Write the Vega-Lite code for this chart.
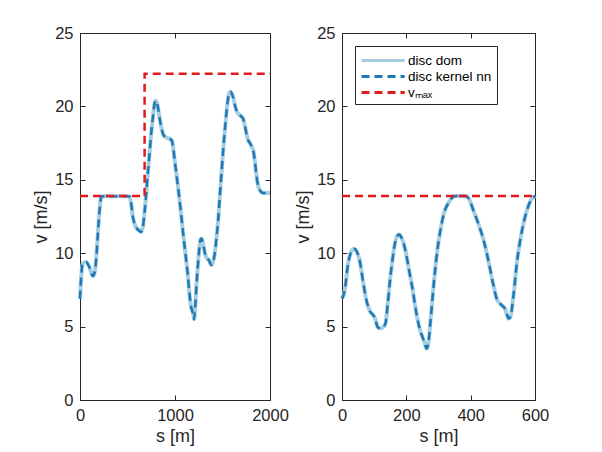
{
  "$schema": "https://vega.github.io/schema/vega-lite/v6.json",
  "padding": {"left": 32, "top": 24, "right": 5, "bottom": 5},
  "background": "white",
  "bounds": "flush",
  "spacing": 72,
  "config": {
    "font": "Liberation Sans",
    "view": {"stroke": "#262626", "strokeWidth": 1},
    "axis": {
      "grid": false,
      "domain": false,
      "format": "d",
      "labelFlush": false,
      "labelFont": "Liberation Sans",
      "labelFontSize": 16.5,
      "labelColor": "#262626",
      "titleFont": "Liberation Sans",
      "titleFontSize": 18,
      "titleFontWeight": "normal",
      "titleColor": "#262626",
      "tickColor": "#262626",
      "tickSize": -5,
      "labelPadding": 12
    },
    "legend": {
      "labelFont": "Liberation Sans",
      "labelFontSize": 13.5,
      "labelColor": "#000000"
    }
  },
  "datasets": {
    "left": [
      {"s": 0, "v": 6.9}, {"s": 15, "v": 8.6}, {"s": 28, "v": 9.3}, {"s": 63, "v": 9.4},
      {"s": 99, "v": 9.05}, {"s": 134, "v": 8.45}, {"s": 150, "v": 8.6}, {"s": 169, "v": 9.5},
      {"s": 185, "v": 11.0}, {"s": 197, "v": 12.2}, {"s": 210, "v": 13.2}, {"s": 222, "v": 13.8},
      {"s": 240, "v": 13.88}, {"s": 300, "v": 13.88}, {"s": 400, "v": 13.88}, {"s": 500, "v": 13.88},
      {"s": 521, "v": 13.85}, {"s": 540, "v": 13.3}, {"s": 556, "v": 12.5}, {"s": 575, "v": 12.0},
      {"s": 592, "v": 11.75}, {"s": 620, "v": 11.55}, {"s": 644, "v": 11.45}, {"s": 662, "v": 11.8},
      {"s": 680, "v": 12.8}, {"s": 697, "v": 14.06}, {"s": 715, "v": 15.5}, {"s": 732, "v": 16.8},
      {"s": 750, "v": 18.2}, {"s": 768, "v": 19.3}, {"s": 785, "v": 20.2}, {"s": 796, "v": 20.4},
      {"s": 808, "v": 20.3}, {"s": 820, "v": 19.95}, {"s": 838, "v": 19.2}, {"s": 856, "v": 18.6},
      {"s": 875, "v": 18.1}, {"s": 891, "v": 17.96}, {"s": 920, "v": 17.85}, {"s": 944, "v": 17.8},
      {"s": 968, "v": 17.65}, {"s": 983, "v": 17.1}, {"s": 997, "v": 16.3}, {"s": 1015, "v": 15.4},
      {"s": 1032, "v": 14.5}, {"s": 1050, "v": 13.5}, {"s": 1067, "v": 12.5}, {"s": 1085, "v": 11.4},
      {"s": 1102, "v": 10.4}, {"s": 1120, "v": 9.4}, {"s": 1137, "v": 8.4}, {"s": 1150, "v": 7.4},
      {"s": 1165, "v": 6.5}, {"s": 1180, "v": 6.1}, {"s": 1190, "v": 5.9}, {"s": 1201, "v": 5.5},
      {"s": 1212, "v": 6.3}, {"s": 1225, "v": 7.7}, {"s": 1240, "v": 9.1}, {"s": 1254, "v": 10.2},
      {"s": 1268, "v": 10.9}, {"s": 1278, "v": 11.0}, {"s": 1290, "v": 10.8}, {"s": 1303, "v": 10.4},
      {"s": 1317, "v": 9.95}, {"s": 1331, "v": 9.7}, {"s": 1345, "v": 9.6}, {"s": 1359, "v": 9.5},
      {"s": 1372, "v": 9.3}, {"s": 1384, "v": 9.2}, {"s": 1400, "v": 9.4}, {"s": 1419, "v": 10.0},
      {"s": 1436, "v": 11.0}, {"s": 1454, "v": 12.2}, {"s": 1470, "v": 13.7}, {"s": 1489, "v": 15.4},
      {"s": 1507, "v": 17.0}, {"s": 1525, "v": 18.4}, {"s": 1542, "v": 19.6}, {"s": 1560, "v": 20.6},
      {"s": 1575, "v": 20.95}, {"s": 1585, "v": 21.0}, {"s": 1600, "v": 20.85}, {"s": 1613, "v": 20.6},
      {"s": 1630, "v": 20.1}, {"s": 1648, "v": 19.7}, {"s": 1665, "v": 19.5}, {"s": 1683, "v": 19.4},
      {"s": 1700, "v": 19.3}, {"s": 1718, "v": 19.15}, {"s": 1735, "v": 18.7}, {"s": 1754, "v": 18.1},
      {"s": 1770, "v": 17.7}, {"s": 1789, "v": 17.5}, {"s": 1805, "v": 17.3}, {"s": 1824, "v": 17.0},
      {"s": 1840, "v": 16.3}, {"s": 1859, "v": 15.2}, {"s": 1875, "v": 14.6}, {"s": 1894, "v": 14.3},
      {"s": 1910, "v": 14.15}, {"s": 1930, "v": 14.1}, {"s": 1960, "v": 14.1}, {"s": 2000, "v": 14.1}
    ],
    "leftmax": [
      {"s": 0, "v": 13.89}, {"s": 680, "v": 13.89}, {"s": 680, "v": 22.22}, {"s": 2000, "v": 22.22}
    ],
    "right": [
      {"s": 0, "v": 6.9}, {"s": 8, "v": 7.4}, {"s": 19, "v": 9.3}, {"s": 29, "v": 10.1},
      {"s": 38, "v": 10.3}, {"s": 45, "v": 10.15}, {"s": 56, "v": 9.4}, {"s": 66, "v": 8.0},
      {"s": 77, "v": 6.7}, {"s": 87, "v": 6.05}, {"s": 98, "v": 5.75}, {"s": 104, "v": 5.5},
      {"s": 110, "v": 5.0}, {"s": 119, "v": 4.88}, {"s": 129, "v": 5.0}, {"s": 135, "v": 5.2},
      {"s": 142, "v": 6.5}, {"s": 150, "v": 8.3}, {"s": 156, "v": 9.4}, {"s": 166, "v": 10.8},
      {"s": 177, "v": 11.27}, {"s": 187, "v": 10.95}, {"s": 198, "v": 10.1}, {"s": 208, "v": 8.9},
      {"s": 219, "v": 7.6}, {"s": 229, "v": 6.2}, {"s": 240, "v": 5.0}, {"s": 250, "v": 4.3},
      {"s": 257, "v": 3.9}, {"s": 263, "v": 3.5}, {"s": 268, "v": 3.8}, {"s": 276, "v": 5.6},
      {"s": 287, "v": 8.3}, {"s": 297, "v": 10.3}, {"s": 308, "v": 11.8}, {"s": 318, "v": 12.8},
      {"s": 329, "v": 13.35}, {"s": 339, "v": 13.7}, {"s": 350, "v": 13.88}, {"s": 370, "v": 13.9},
      {"s": 387, "v": 13.88}, {"s": 397, "v": 13.6}, {"s": 408, "v": 12.95}, {"s": 424, "v": 12.0},
      {"s": 440, "v": 10.9}, {"s": 455, "v": 9.5}, {"s": 471, "v": 7.8}, {"s": 481, "v": 6.9},
      {"s": 490, "v": 6.6}, {"s": 497, "v": 6.45}, {"s": 507, "v": 6.2}, {"s": 513, "v": 5.8},
      {"s": 518, "v": 5.55}, {"s": 523, "v": 5.65}, {"s": 534, "v": 7.3}, {"s": 544, "v": 9.4},
      {"s": 555, "v": 11.0}, {"s": 565, "v": 12.1}, {"s": 576, "v": 13.0}, {"s": 586, "v": 13.55},
      {"s": 600, "v": 13.9}
    ],
    "rightmax": [
      {"s": 0, "v": 13.89}, {"s": 600, "v": 13.89}
    ]
  },
  "resolve": {
    "scale": {"color": "independent", "strokeDash": "independent"},
    "legend": {"color": "independent", "strokeDash": "independent"}
  },
  "hconcat": [
    {
      "width": 190,
      "height": 367,
      "resolve": {"axis": {"x": "independent", "y": "independent"}},
      "encoding": {
        "x": {"field": "s", "type": "quantitative", "scale": {"domain": [0, 2000], "nice": false}},
        "y": {"field": "v", "type": "quantitative", "scale": {"domain": [0, 25], "nice": false}}
      },
      "layer": [
        {
          "data": {"name": "left"},
          "mark": {"type": "line", "interpolate": "monotone", "strokeWidth": 4, "color": "#a6cee3"},
          "encoding": {
            "x": {"field": "s", "type": "quantitative", "title": "s [m]", "axis": {"values": [0, 1000, 2000]}},
            "y": {"field": "v", "type": "quantitative", "title": "v [m/s]", "axis": {"values": [0, 5, 10, 15, 20, 25]}}
          }
        },
        {
          "data": {"name": "left"},
          "mark": {"type": "line", "interpolate": "monotone", "strokeWidth": 2.5, "color": "#1f78b4", "strokeDash": [8, 5]},
          "encoding": {
            "x": {"field": "s", "type": "quantitative", "axis": null},
            "y": {"field": "v", "type": "quantitative", "axis": null}
          }
        },
        {
          "data": {"name": "leftmax"},
          "mark": {"type": "line", "strokeWidth": 2.5, "color": "#e31a1c", "strokeDash": [8, 5]},
          "encoding": {
            "x": {"field": "s", "type": "quantitative", "axis": {"orient": "top", "labels": false, "title": null, "values": [0, 1000, 2000]}},
            "y": {"field": "v", "type": "quantitative", "axis": {"orient": "right", "labels": false, "title": null, "values": [0, 5, 10, 15, 20, 25]}}
          }
        }
      ]
    },
    {
      "width": 193,
      "height": 367,
      "resolve": {"axis": {"x": "independent", "y": "independent"}},
      "encoding": {
        "x": {"field": "s", "type": "quantitative", "scale": {"domain": [0, 600], "nice": false}},
        "y": {"field": "v", "type": "quantitative", "scale": {"domain": [0, 25], "nice": false}}
      },
      "layer": [
        {
          "data": {"name": "right"},
          "mark": {"type": "line", "interpolate": "monotone", "strokeWidth": 4},
          "encoding": {
            "x": {"field": "s", "type": "quantitative", "title": "s [m]", "axis": {"values": [0, 200, 400, 600]}},
            "y": {"field": "v", "type": "quantitative", "title": "v [m/s]", "axis": {"values": [0, 5, 10, 15, 20, 25]}},
            "color": {
              "datum": "dom",
              "type": "nominal",
              "scale": {"domain": ["dom", "nn", "vmax"], "range": ["#a6cee3", "#1f78b4", "#e31a1c"]},
              "legend": {
                "title": null,
                "orient": "top-left",
                "offset": 13,
                "padding": 5,
                "strokeColor": "#262626",
                "fillColor": "white",
                "symbolType": "M-1,0H4.4",
                "symbolSize": 256,
                "symbolStrokeWidth": 3,
                "rowPadding": 0,
                "labelOffset": 29,
                "labelExpr": "datum.label == 'dom' ? 'disc dom' : datum.label == 'nn' ? 'disc kernel nn' : 'vₘₐₓ'"
              }
            },
            "strokeDash": {
              "datum": "dom",
              "type": "nominal",
              "scale": {"domain": ["dom", "nn", "vmax"], "range": [[1, 0], [8, 5], [8, 5]]}
            }
          }
        },
        {
          "data": {"name": "right"},
          "mark": {"type": "line", "interpolate": "monotone", "strokeWidth": 2.5},
          "encoding": {
            "x": {"field": "s", "type": "quantitative", "axis": null},
            "y": {"field": "v", "type": "quantitative", "axis": null},
            "color": {"datum": "nn", "type": "nominal"},
            "strokeDash": {"datum": "nn", "type": "nominal"}
          }
        },
        {
          "data": {"name": "rightmax"},
          "mark": {"type": "line", "strokeWidth": 2.5},
          "encoding": {
            "x": {"field": "s", "type": "quantitative", "axis": {"orient": "top", "labels": false, "title": null, "values": [0, 200, 400, 600]}},
            "y": {"field": "v", "type": "quantitative", "axis": {"orient": "right", "labels": false, "title": null, "values": [0, 5, 10, 15, 20, 25]}},
            "color": {"datum": "vmax", "type": "nominal"},
            "strokeDash": {"datum": "vmax", "type": "nominal"}
          }
        }
      ]
    }
  ]
}
